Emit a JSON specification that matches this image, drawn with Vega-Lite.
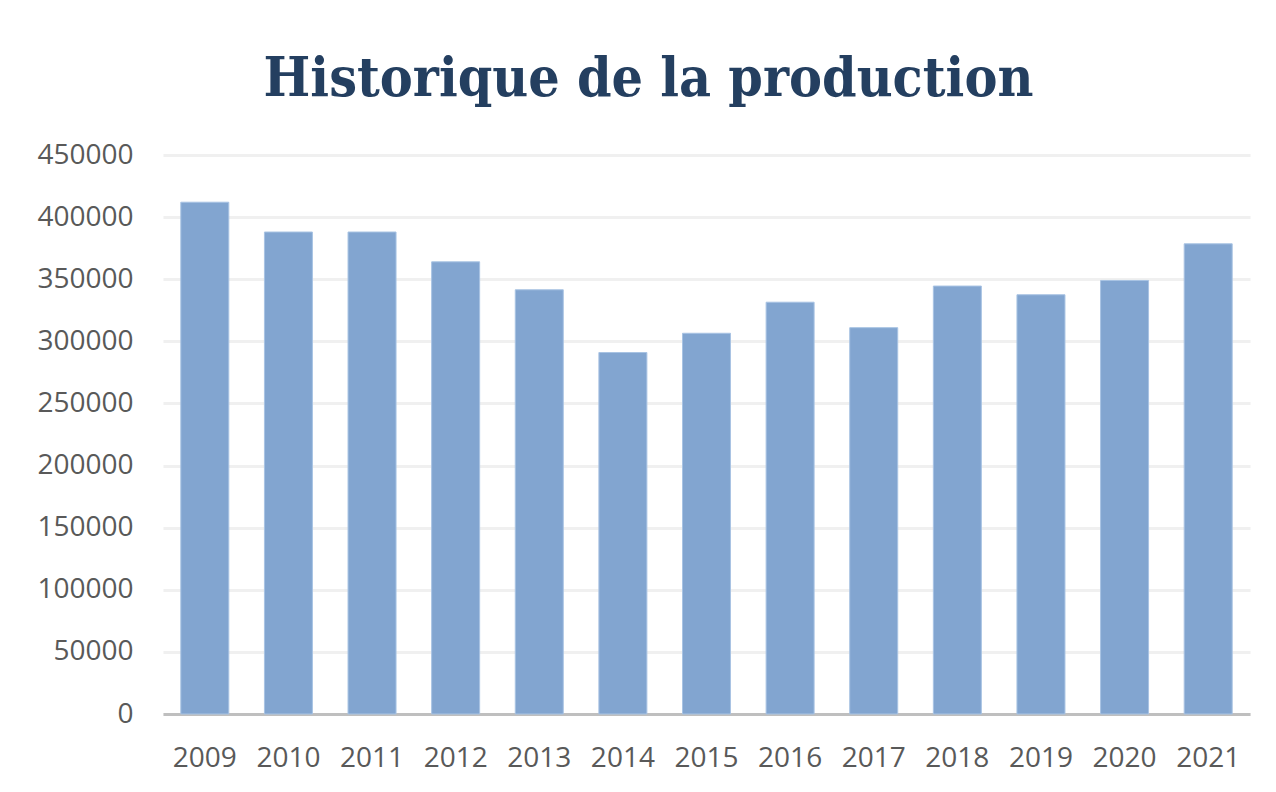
{
  "$schema": "https://vega.github.io/schema/vega-lite/v6.json",
  "width": 1087,
  "height": 559,
  "autosize": {"type": "none"},
  "padding": {"left": 163, "top": 155, "right": 26, "bottom": 78},
  "background": "white",
  "title": {
    "text": "Historique de la production",
    "font": "DejaVu Serif Condensed",
    "fontWeight": "bold",
    "fontSize": 55,
    "color": "#243F60",
    "anchor": "middle",
    "dx": -58,
    "offset": 33
  },
  "data": {
    "values": [
      {"year": "2009", "production": 412000},
      {"year": "2010", "production": 388000},
      {"year": "2011", "production": 388000},
      {"year": "2012", "production": 364000},
      {"year": "2013", "production": 341500},
      {"year": "2014", "production": 291000},
      {"year": "2015", "production": 306500},
      {"year": "2016", "production": 331500},
      {"year": "2017", "production": 311000},
      {"year": "2018", "production": 344500},
      {"year": "2019", "production": 337500},
      {"year": "2020", "production": 349000},
      {"year": "2021", "production": 378500}
    ]
  },
  "mark": {"type": "bar", "color": "#82A5D0", "stroke": "#A8C3E3", "strokeWidth": 1},
  "encoding": {
    "x": {
      "field": "year",
      "type": "ordinal",
      "scale": {"paddingInner": 0.426, "paddingOuter": 0.213},
      "axis": {
        "title": null,
        "labelAngle": 0,
        "labelFont": "Open Sans",
        "labelFontSize": 28,
        "labelColor": "#595959",
        "labelPadding": 30,
        "ticks": false,
        "domainColor": "#BFBFBF",
        "domainWidth": 3,
        "grid": false
      }
    },
    "y": {
      "field": "production",
      "type": "quantitative",
      "scale": {"domain": [0, 450000], "nice": false},
      "axis": {
        "title": null,
        "values": [0, 50000, 100000, 150000, 200000, 250000, 300000, 350000, 400000, 450000],
        "format": "d",
        "labelFont": "Open Sans",
        "labelFontSize": 28,
        "labelColor": "#595959",
        "labelPadding": 30,
        "ticks": false,
        "domain": false,
        "grid": true,
        "gridColor": "#F0F0F0",
        "gridWidth": 3
      }
    }
  },
  "config": {"view": {"stroke": null}}
}
